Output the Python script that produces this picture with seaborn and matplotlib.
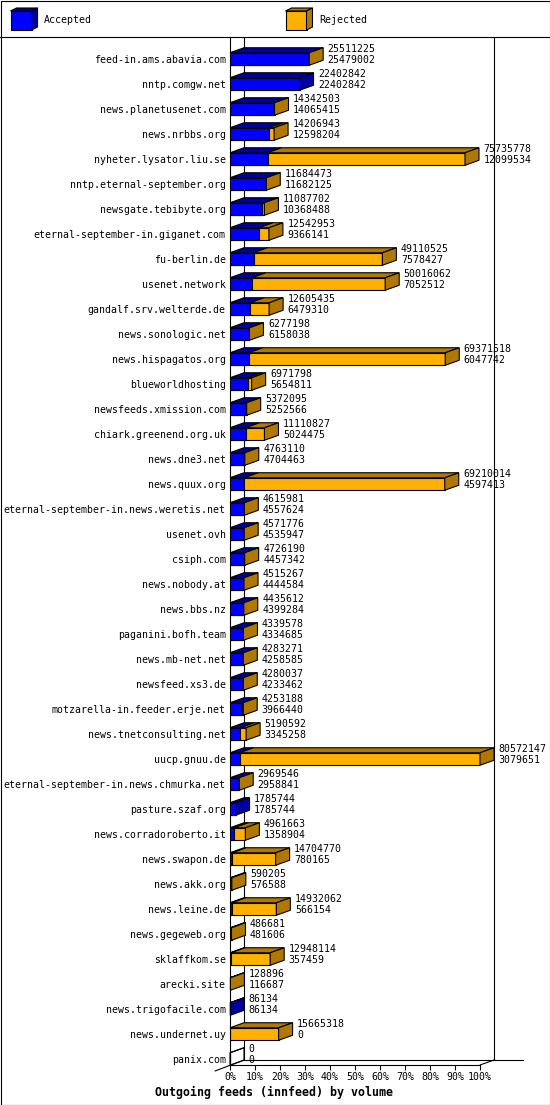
import matplotlib
matplotlib.use("Agg")
import matplotlib.pyplot as plt
import seaborn as sns
import pandas as pd
from matplotlib.patches import Polygon, Rectangle
from matplotlib.lines import Line2D

hosts = [
    "feed-in.ams.abavia.com", "nntp.comgw.net", "news.planetusenet.com", "news.nrbbs.org",
    "nyheter.lysator.liu.se", "nntp.eternal-september.org", "newsgate.tebibyte.org",
    "eternal-september-in.giganet.com", "fu-berlin.de", "usenet.network",
    "gandalf.srv.welterde.de", "news.sonologic.net", "news.hispagatos.org", "blueworldhosting",
    "newsfeeds.xmission.com", "chiark.greenend.org.uk", "news.dne3.net", "news.quux.org",
    "eternal-september-in.news.weretis.net", "usenet.ovh", "csiph.com", "news.nobody.at",
    "news.bbs.nz", "paganini.bofh.team", "news.mb-net.net", "newsfeed.xs3.de",
    "motzarella-in.feeder.erje.net", "news.tnetconsulting.net", "uucp.gnuu.de",
    "eternal-september-in.news.chmurka.net", "pasture.szaf.org", "news.corradoroberto.it",
    "news.swapon.de", "news.akk.org", "news.leine.de", "news.gegeweb.org", "sklaffkom.se",
    "arecki.site", "news.trigofacile.com", "news.undernet.uy", "panix.com",
]
offered = [
    25511225, 22402842, 14342503, 14206943, 75735778, 11684473, 11087702, 12542953,
    49110525, 50016062, 12605435, 6277198, 69371518, 6971798, 5372095, 11110827,
    4763110, 69210014, 4615981, 4571776, 4726190, 4515267, 4435612, 4339578,
    4283271, 4280037, 4253188, 5190592, 80572147, 2969546, 1785744, 4961663,
    14704770, 590205, 14932062, 486681, 12948114, 128896, 86134, 15665318, 0,
]
accepted = [
    25479002, 22402842, 14065415, 12598204, 12099534, 11682125, 10368488, 9366141,
    7578427, 7052512, 6479310, 6158038, 6047742, 5654811, 5252566, 5024475,
    4704463, 4597413, 4557624, 4535947, 4457342, 4444584, 4399284, 4334685,
    4258585, 4233462, 3966440, 3345258, 3079651, 2958841, 1785744, 1358904,
    780165, 576588, 566154, 481606, 357459, 116687, 86134, 0, 0,
]
tick_labels = [f"{v}%" for v in range(0, 101, 10)]
legend_labels = ["Accepted", "Rejected"]
title = "Outgoing feeds (innfeed) by volume"

W, H, DPI = 550, 1105, 100
BLUE, BLUE_D = "#0000ff", "#0000a0"
ORANGE, ORANGE_D = "#ffb000", "#b07800"
LW = 0.8
FS = 7.15

sns.set_theme(style="white")
plt.rcParams["font.family"] = ["DejaVu Sans Mono"]
plt.rcParams["font.size"] = FS

fig = plt.figure(figsize=(W / DPI, H / DPI), dpi=DPI)
fig.patch.set_facecolor("white")

# plot box in pixels
PX_L, PX_R, PX_T, PX_B = 230, 480, 37, 1065
ax = fig.add_axes([PX_L / W, (H - PX_B) / H, (PX_R - PX_L) / W, (PX_B - PX_T) / H])

n = len(hosts)
maxv = max(offered)
df = pd.DataFrame({
    "host": hosts,
    "total": [100.0 * o / maxv for o in offered],
    "acc": [100.0 * a / maxv for a in accepted],
})

BAR_W = 0.5
sns.barplot(data=df, y="host", x="total", orient="h", color=ORANGE, saturation=1,
            width=BAR_W, edgecolor="black", linewidth=LW, errorbar=None, ax=ax, zorder=3)
sns.barplot(data=df, y="host", x="acc", orient="h", color=BLUE, saturation=1,
            width=BAR_W, edgecolor="black", linewidth=LW, errorbar=None, ax=ax, zorder=4)

Y_TOP, Y_BOT = -0.88, n - 1 + 0.24
ax.set_xlim(0, 100)
ax.set_ylim(Y_BOT, Y_TOP)

# pixel -> data conversion
sx = 100.0 / (PX_R - PX_L)
sy = (Y_BOT - Y_TOP) / (PX_B - PX_T)
DX, DY = 14 * sx, 5 * sy

def poly(pts, fc, z=5):
    ax.add_patch(Polygon(pts, closed=True, facecolor=fc, edgecolor="black",
                         linewidth=LW, zorder=z, clip_on=False, joinstyle="miter"))

for i, (t, a) in enumerate(zip(df["total"], df["acc"])):
    yt = i - BAR_W / 2
    yb = i + BAR_W / 2
    # top faces
    if a > 0 or t == 0:
        poly([(0, yt), (a, yt), (a + DX, yt - DY), (DX, yt - DY)], BLUE_D if a > 0 else "none")
    if t > a:
        poly([(a, yt), (t, yt), (t + DX, yt - DY), (a + DX, yt - DY)], ORANGE_D)
    # side face
    if t == 0:
        side = "none"
    else:
        side = ORANGE_D if t > a else BLUE_D
    poly([(t, yt), (t + DX, yt - DY), (t + DX, yb - DY), (t, yb)], side)
    # value labels
    ax.text(t + DX + 4.5 * sx, i - 10 * sy, f"{offered[i]}", ha="left", va="center",
            fontsize=FS, color="black", zorder=6, clip_on=False)
    ax.text(t + DX + 4.5 * sx, i + 1 * sy, f"{accepted[i]}", ha="left", va="center",
            fontsize=FS, color="black", zorder=6, clip_on=False)

# walls and floor
def line(xs, ys):
    ax.add_line(Line2D(xs, ys, color="black", linewidth=LW, clip_on=False, zorder=2))

line([DX, DX], [Y_TOP, Y_BOT - DY])
line([100 + DX, 100 + DX], [Y_TOP, Y_BOT - DY])
line([DX, 117.2], [Y_BOT - DY, Y_BOT - DY])
line([-15 * sx, DX], [Y_BOT + 6 * sy, Y_BOT - DY])
line([100, 100 + DX], [Y_BOT, Y_BOT - DY])

ax.set_xticks(range(0, 101, 10))
ax.set_xticklabels(tick_labels)
ax.set_xlabel("")
ax.set_ylabel("")
ax.tick_params(axis="x", length=3.6, width=LW, direction="out", pad=1.5,
               labelsize=FS, colors="black", bottom=True)
ax.tick_params(axis="y", length=0, pad=3, labelsize=FS, labelcolor="black")
for s in ["top", "right"]:
    ax.spines[s].set_visible(False)
for s in ["left", "bottom"]:
    ax.spines[s].set_color("black")
    ax.spines[s].set_linewidth(LW)
    ax.spines[s].set_zorder(2)
ax.set_facecolor("none")
ax.grid(False)

# figure-level decoration in pixel coordinates (top-left origin)
def fp(x, y):
    return (x / W, 1 - y / H)

def fpoly(pts, fc):
    fig.patches.append(Polygon([fp(*p) for p in pts], closed=True, facecolor=fc,
                               edgecolor="black", linewidth=LW, transform=fig.transFigure))

def cube(x0, y0, fc, dc):
    w, h, dx, dy = 21, 19, 6, 3
    fpoly([(x0, y0), (x0 + w, y0), (x0 + w, y0 + h), (x0, y0 + h)], fc)
    fpoly([(x0, y0), (x0 + w, y0), (x0 + w + dx, y0 - dy), (x0 + dx, y0 - dy)], dc)
    fpoly([(x0 + w, y0), (x0 + w + dx, y0 - dy), (x0 + w + dx, y0 + h - dy), (x0 + w, y0 + h)], dc)

cube(10.5, 11, BLUE, BLUE_D)
cube(285.5, 11, ORANGE, ORANGE_D)
fig.text(*fp(44, 20), legend_labels[0], ha="left", va="center", fontsize=FS, color="black")
fig.text(*fp(319, 20), legend_labels[1], ha="left", va="center", fontsize=FS, color="black")

fig.add_artist(Line2D([0, 1], [1 - 36.5 / H, 1 - 36.5 / H], color="black", linewidth=LW,
                      transform=fig.transFigure))
fig.patches.append(Rectangle(fp(0.5, 1104.5), (W - 1) / W, (H - 1) / H, fill=False,
                             edgecolor="black", linewidth=LW, transform=fig.transFigure))

fig.text(*fp(274, 1092), title, ha="center", va="center", fontsize=8.4,
         fontweight="bold", color="black")

fig.savefig("out.png", dpi=DPI)
